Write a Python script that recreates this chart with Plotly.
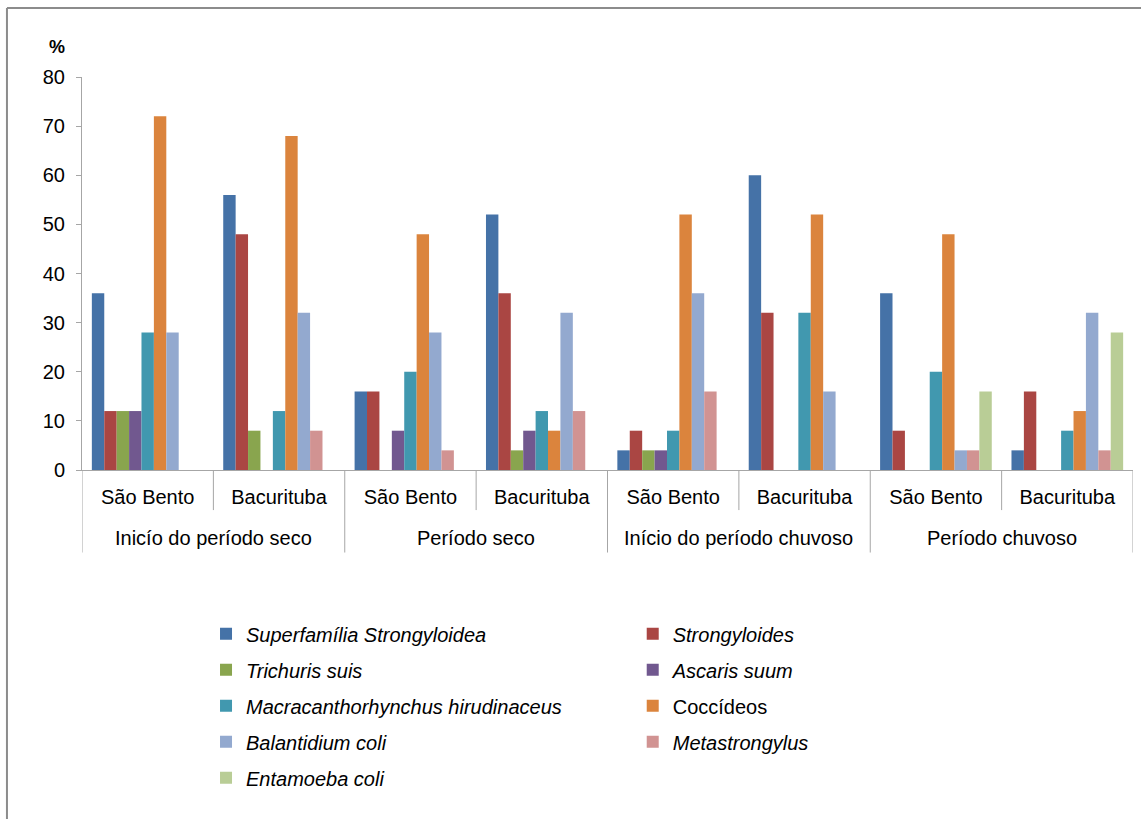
import plotly.graph_objects as go

# Sampling periods and locations (outer / inner category levels)
periods = ["Inicío do período seco", "Período seco",
           "Início do período chuvoso", "Período chuvoso"]
locations = ["São Bento", "Bacurituba"] * 4

# Prevalence (%) per parasite, in order of the 8 period/location groups
superfamilia = [36, 56, 16, 52, 4, 60, 36, 4]
strongyloides = [12, 48, 16, 36, 8, 32, 8, 16]
trichuris = [12, 8, 0, 4, 4, 0, 0, 0]
ascaris = [12, 0, 8, 8, 4, 0, 0, 0]
macracanthorhynchus = [28, 12, 20, 12, 8, 32, 20, 8]
coccideos = [72, 68, 48, 8, 52, 52, 48, 12]
balantidium = [28, 32, 28, 32, 36, 16, 4, 32]
metastrongylus = [0, 8, 4, 12, 16, 0, 4, 4]
entamoeba = [0, 0, 0, 0, 0, 0, 16, 28]

series = [
    ("<i>Superfamília Strongyloidea</i>", superfamilia, "#4572A7", "legend"),
    ("<i>Strongyloides</i>", strongyloides, "#AA4643", "legend2"),
    ("<i>Trichuris suis</i>", trichuris, "#89A54E", "legend"),
    ("<i>Ascaris suum</i>", ascaris, "#71588F", "legend2"),
    ("<i>Macracanthorhynchus hirudinaceus</i>", macracanthorhynchus, "#4198AF", "legend"),
    ("Coccídeos", coccideos, "#DB843D", "legend2"),
    ("<i>Balantidium coli</i>", balantidium, "#93A9CF", "legend"),
    ("<i>Metastrongylus</i>", metastrongylus, "#D19392", "legend2"),
    ("<i>Entamoeba coli</i>", entamoeba, "#B9CD96", "legend"),
]

FONT = "Liberation Sans, Arial, sans-serif"
AXIS_GREY = "#A6A6A6"
xpos = list(range(len(locations)))

fig = go.Figure()
for i, (name, vals, color, leg) in enumerate(series):
    fig.add_trace(go.Bar(
        x=xpos, y=vals, name=name, legend=leg, legendgroup=f"g{i}",
        marker=dict(color=color, line=dict(width=0)),
    ))

# Divider lines below the axis: short ones between locations,
# long ones between periods
shapes = []
for k in range(len(periods)):
    shapes.append(dict(type="line", xref="x", yref="paper",
                       x0=2 * k + 0.5, x1=2 * k + 0.5, y0=0, y1=-0.102,
                       line=dict(color=AXIS_GREY, width=1)))
for k in range(len(periods) + 1):
    shapes.append(dict(type="line", xref="x", yref="paper",
                       x0=2 * k - 0.5, x1=2 * k - 0.5, y0=0, y1=-0.21,
                       line=dict(color=AXIS_GREY, width=1)))
# outer frame (left and top edges)
shapes.append(dict(type="line", xref="paper", yref="paper",
                   x0=-0.0714, x1=-0.0714, y0=1.1755, y1=-0.9,
                   line=dict(color="#8C8C8C", width=2)))
shapes.append(dict(type="line", xref="paper", yref="paper",
                   x0=-0.0714, x1=1.02, y0=1.1755, y1=1.1755,
                   line=dict(color="#8C8C8C", width=2)))

annotations = [
    dict(text=p, x=2 * k + 0.5, xref="x", y=-0.173, yref="paper",
         showarrow=False, font=dict(size=20, color="#000000", family=FONT),
         xanchor="center", yanchor="middle")
    for k, p in enumerate(periods)
]
annotations.append(dict(text="<b>%</b>", x=-0.0238, y=1.0763, xref="paper",
                        yref="paper", showarrow=False,
                        xanchor="center", yanchor="middle",
                        font=dict(size=18, color="#000000", family=FONT)))

legend_common = dict(
    orientation="v", xanchor="left", yanchor="top",
    font=dict(size=20, color="#000000", family=FONT),
    traceorder="grouped", tracegroupgap=7, bgcolor="rgba(0,0,0,0)",
)

fig.update_layout(
    width=1141, height=819,
    margin=dict(l=82, r=8, t=77, b=349, autoexpand=False),
    paper_bgcolor="white", plot_bgcolor="white",
    font=dict(family=FONT, size=20, color="#000000"),
    barmode="group", bargap=0.15, bargroupgap=0,
    xaxis=dict(
        range=[-0.5, 7.5], tickvals=xpos, ticktext=locations,
        showline=True, linecolor=AXIS_GREY, linewidth=1,
        ticks="", showgrid=False, zeroline=False,
        ticklabelstandoff=9, tickfont=dict(size=20, family=FONT),
    ),
    yaxis=dict(
        range=[0, 80], dtick=10, showline=True, linecolor=AXIS_GREY,
        linewidth=1, ticks="outside", ticklen=5, tickcolor=AXIS_GREY,
        ticklabelstandoff=7,
        showgrid=False, zeroline=False, tickfont=dict(size=20, family=FONT),
    ),
    legend=dict(x=0.118, y=-0.367, **legend_common),
    legend2=dict(x=0.524, y=-0.367, **legend_common),
    shapes=shapes, annotations=annotations,
)

fig.write_html("out.html")
